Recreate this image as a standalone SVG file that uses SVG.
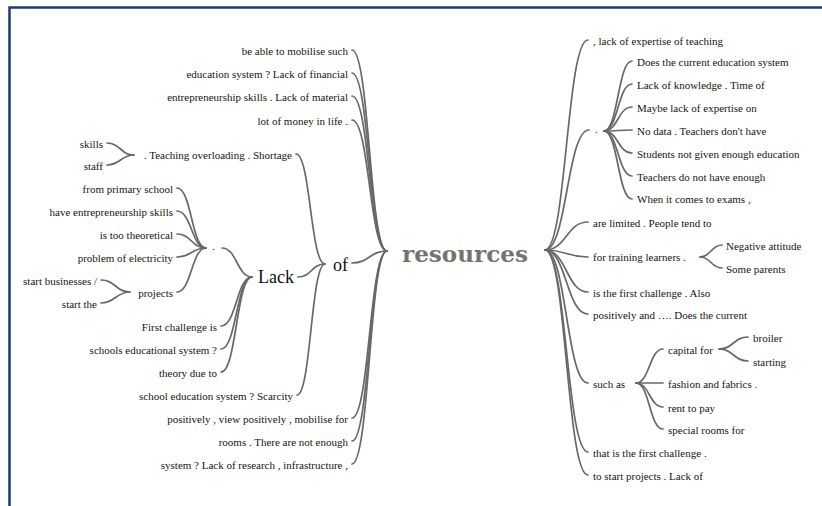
<svg xmlns="http://www.w3.org/2000/svg" width="822" height="506" viewBox="0 0 822 506">
  <style>
    .t { font-family: "Liberation Serif", "Times New Roman", serif; font-size: 11px; fill: #151515; }
    .e { text-anchor: end; }
    .big { font-family: "Liberation Serif", "Times New Roman", serif; font-size: 18px; fill: #111; }
    .root { font-family: "DejaVu Serif", "Liberation Serif", serif; font-weight: bold; font-size: 22px; fill: #737373; }
    .c { fill: none; stroke: #686868; stroke-width: 1.7; stroke-linecap: round; }
  </style>
  <rect x="0" y="0" width="822" height="506" fill="#fff"/>
  <!-- frame -->
  <path d="M9.5 506 V7.5 H822" fill="none" stroke="#1d3b78" stroke-width="2.5"/>

  <g id="connectors">
    <!-- root, left side -->
    <path class="c" d="M352,50 C369.5,50 369.5,251 387,251"/>
    <path class="c" d="M352,73 C369.5,73 369.5,251 387,251"/>
    <path class="c" d="M352,96 C369.5,96 369.5,251 387,251"/>
    <path class="c" d="M352,120 C369.5,120 369.5,251 387,251"/>
    <path class="c" d="M352,263 C369.5,263 369.5,251 387,251"/>
    <path class="c" d="M352,418 C369.5,418 369.5,251 387,251"/>
    <path class="c" d="M352,441 C369.5,441 369.5,251 387,251"/>
    <path class="c" d="M352,464 C369.5,464 369.5,251 387,251"/>
    <!-- "of" -->
    <path class="c" d="M296,154 C310.5,154 310.5,264 325,264"/>
    <path class="c" d="M298,277 C311.5,277 311.5,264 325,264"/>
    <path class="c" d="M297,395 C311,395 311,264 325,264"/>
    <!-- "Lack" -->
    <path class="c" d="M222,248 C237,248 237,277 252,277"/>
    <path class="c" d="M221,326 C236.5,326 236.5,277 252,277"/>
    <path class="c" d="M221,349 C236.5,349 236.5,277 252,277"/>
    <path class="c" d="M221,372 C236.5,372 236.5,277 252,277"/>
    <!-- left "." -->
    <path class="c" d="M177,188 C191.5,188 191.5,248 206,248"/>
    <path class="c" d="M177,211 C191.5,211 191.5,248 206,248"/>
    <path class="c" d="M177,234 C191.5,234 191.5,248 206,248"/>
    <path class="c" d="M177,257 C191.5,257 191.5,248 206,248"/>
    <path class="c" d="M177,292 C191.5,292 191.5,248 206,248"/>
    <!-- "projects" -->
    <path class="c" d="M101,280 C115.5,280 115.5,292 130,292"/>
    <path class="c" d="M101,303 C115.5,303 115.5,292 130,292"/>
    <!-- "Teaching overloading" -->
    <path class="c" d="M107,143 C120.5,143 120.5,155 134,155"/>
    <path class="c" d="M107,165 C120.5,165 120.5,155 134,155"/>

    <!-- root, right side -->
    <path class="c" d="M545,250 C566.5,250 566.5,40 588,40"/>
    <path class="c" d="M545,250 C567,250 567,130 589,130"/>
    <path class="c" d="M545,250 C566.5,250 566.5,222 588,222"/>
    <path class="c" d="M545,250 C566.5,250 566.5,257 588,257"/>
    <path class="c" d="M545,250 C566.5,250 566.5,292 588,292"/>
    <path class="c" d="M545,250 C566.5,250 566.5,314 588,314"/>
    <path class="c" d="M545,250 C566.5,250 566.5,383 588,383"/>
    <path class="c" d="M545,250 C566.5,250 566.5,452 588,452"/>
    <path class="c" d="M545,250 C566.5,250 566.5,475 588,475"/>
    <!-- right "." -->
    <path class="c" d="M604,131 C618,131 618,61 632,61"/>
    <path class="c" d="M604,131 C618,131 618,84 632,84"/>
    <path class="c" d="M604,131 C618,131 618,107 632,107"/>
    <path class="c" d="M604,131 C618,131 618,130 632,130"/>
    <path class="c" d="M604,131 C618,131 618,153 632,153"/>
    <path class="c" d="M604,131 C618,131 618,176 632,176"/>
    <path class="c" d="M604,131 C618,131 618,199 632,199"/>
    <!-- "for training learners ." -->
    <path class="c" d="M700,257 C711,257 711,245 722,245"/>
    <path class="c" d="M700,257 C711,257 711,268 722,268"/>
    <!-- "such as" -->
    <path class="c" d="M636,383 C649.5,383 649.5,349 663,349"/>
    <path class="c" d="M636,383 C649.5,383 649.5,383 663,383"/>
    <path class="c" d="M636,383 C649.5,383 649.5,407 663,407"/>
    <path class="c" d="M636,383 C649.5,383 649.5,429 663,429"/>
    <!-- "capital for" -->
    <path class="c" d="M719,349 C733.5,349 733.5,337 748,337"/>
    <path class="c" d="M719,349 C733.5,349 733.5,361 748,361"/>
  </g>

  <g id="n-resources"><text class="root" x="402" y="262" textLength="126" lengthAdjust="spacingAndGlyphs">resources</text></g>
  <g id="n-of"><text class="big" x="333" y="271">of</text></g>
  <g id="n-lack"><text class="big" x="258" y="283">Lack</text></g>

  <!-- left branches -->
  <g id="n-l1"><text class="t e" x="348" y="54.5">be able to mobilise such</text></g>
  <g id="n-l2"><text class="t e" x="348" y="77.5">education system ? Lack of financial</text></g>
  <g id="n-l3"><text class="t e" x="348" y="100.5">entrepreneurship skills . Lack of material</text></g>
  <g id="n-l4"><text class="t e" x="348" y="124.5">lot of money in life .</text></g>
  <g id="n-teaching"><text class="t e" x="292" y="158.5">. Teaching overloading . Shortage</text></g>
  <g id="n-skills"><text class="t e" x="103" y="147.5">skills</text></g>
  <g id="n-staff"><text class="t e" x="103" y="169.5">staff</text></g>
  <g id="n-dot-left"><text class="t" x="212" y="250">.</text></g>
  <g id="n-l5"><text class="t e" x="173" y="192.5">from primary school</text></g>
  <g id="n-l6"><text class="t e" x="173" y="215.5">have entrepreneurship skills</text></g>
  <g id="n-l7"><text class="t e" x="173" y="238.5">is too theoretical</text></g>
  <g id="n-l8"><text class="t e" x="173" y="261.5">problem of electricity</text></g>
  <g id="n-projects"><text class="t e" x="173" y="296.5">projects</text></g>
  <g id="n-l9"><text class="t e" x="97" y="284.5">start businesses /</text></g>
  <g id="n-l10"><text class="t e" x="97" y="307.5">start the</text></g>
  <g id="n-l11"><text class="t e" x="217" y="330.5">First challenge is</text></g>
  <g id="n-l12"><text class="t e" x="217" y="353.5">schools educational system ?</text></g>
  <g id="n-l13"><text class="t e" x="217" y="376.5">theory due to</text></g>
  <g id="n-l14"><text class="t e" x="293" y="399.5">school education system ? Scarcity</text></g>
  <g id="n-l15"><text class="t e" x="348" y="422.5">positively , view positively , mobilise for</text></g>
  <g id="n-l16"><text class="t e" x="348" y="445.5">rooms . There are not enough</text></g>
  <g id="n-l17"><text class="t e" x="348" y="468.5">system ? Lack of research , infrastructure ,</text></g>

  <!-- right branches -->
  <g id="n-r1"><text class="t" x="593" y="44.5">, lack of expertise of teaching</text></g>
  <g id="n-dot-right"><text class="t" x="595" y="133">.</text></g>
  <g id="n-r2"><text class="t" x="637" y="65.5">Does the current education system</text></g>
  <g id="n-r3"><text class="t" x="637" y="88.5">Lack of knowledge . Time of</text></g>
  <g id="n-r4"><text class="t" x="637" y="111.5">Maybe lack of expertise on</text></g>
  <g id="n-r5"><text class="t" x="637" y="134.5">No data . Teachers don't have</text></g>
  <g id="n-r6"><text class="t" x="637" y="157.5">Students not given enough education</text></g>
  <g id="n-r7"><text class="t" x="637" y="180.5">Teachers do not have enough</text></g>
  <g id="n-r8"><text class="t" x="637" y="203">When it comes to exams ,</text></g>
  <g id="n-r9"><text class="t" x="593" y="226.5">are limited . People tend to</text></g>
  <g id="n-training"><text class="t" x="593" y="261">for training learners .</text></g>
  <g id="n-r10"><text class="t" x="726" y="249.5">Negative attitude</text></g>
  <g id="n-r11"><text class="t" x="726" y="272.5">Some parents</text></g>
  <g id="n-r12"><text class="t" x="593" y="296.5">is the first challenge . Also</text></g>
  <g id="n-r13"><text class="t" x="593" y="318.5">positively and …. Does the current</text></g>
  <g id="n-suchas"><text class="t" x="593" y="387.5">such as</text></g>
  <g id="n-capital"><text class="t" x="668" y="353.5">capital for</text></g>
  <g id="n-r14"><text class="t" x="753" y="341.5">broiler</text></g>
  <g id="n-r15"><text class="t" x="753" y="365.5">starting</text></g>
  <g id="n-r16"><text class="t" x="668" y="387.5">fashion and fabrics .</text></g>
  <g id="n-r17"><text class="t" x="668" y="411.5">rent to pay</text></g>
  <g id="n-r18"><text class="t" x="668" y="433.5">special rooms for</text></g>
  <g id="n-r19"><text class="t" x="593" y="456.5">that is the first challenge .</text></g>
  <g id="n-r20"><text class="t" x="593" y="479.5">to start projects . Lack of</text></g>
</svg>
